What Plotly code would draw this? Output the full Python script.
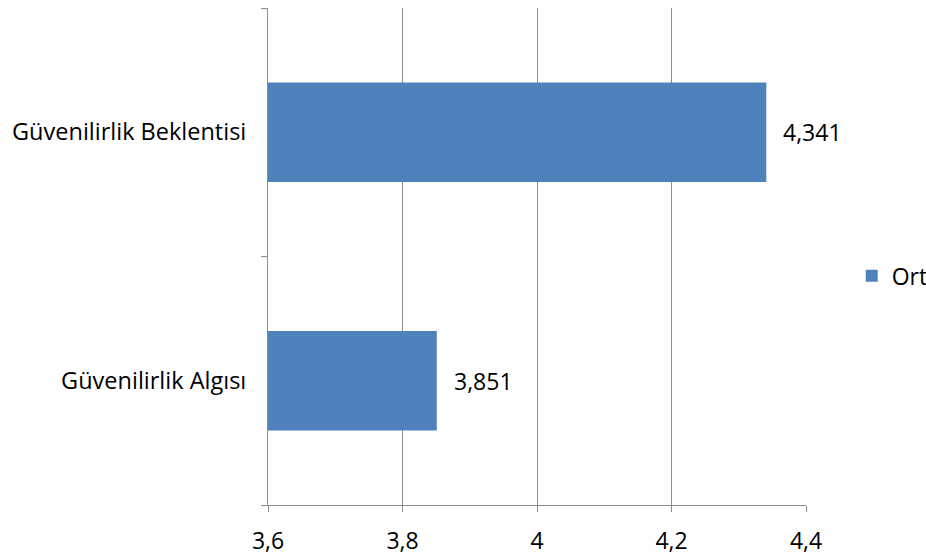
import plotly.graph_objects as go

categories = ["Güvenilirlik Algısı", "Güvenilirlik Beklentisi"]
values = [3.851, 4.341]
series_name = "Ort"
tick_values = [3.6, 3.8, 4.0, 4.2, 4.4]

FONT = "Open Sans"
GRID = "#8c8c8c"
TXT = 23

fig = go.Figure()
fig.add_trace(go.Bar(
    y=categories,
    x=values,
    orientation="h",
    name=series_name,
    marker=dict(color="#4f81bd", line=dict(width=0)),
    width=0.4,
    showlegend=True,
))

# value labels just right of each bar end
for cat, v in zip(categories, values):
    fig.add_annotation(
        x=v, y=cat, xref="x", yref="y",
        text=f"{v:.3f}".replace(".", ","),
        showarrow=False, xanchor="left", yanchor="middle",
        xshift=15,
        font=dict(family=FONT, size=TXT, color="#000000"),
    )

fig.update_layout(
    width=926,
    height=558,
    margin=dict(l=268, r=120, t=8, b=53, autoexpand=False),
    paper_bgcolor="white",
    plot_bgcolor="white",
    separators=",.",
    font=dict(family=FONT, size=TXT, color="#000000"),
    legend=dict(
        x=1.085, y=0.461, xanchor="left", yanchor="middle",
        font=dict(family=FONT, size=TXT),
        itemwidth=30,
    ),
    xaxis=dict(
        range=[3.6, 4.4],
        tickvals=tick_values,
        showgrid=True,
        gridcolor=GRID,
        gridwidth=1,
        showline=True,
        linecolor=GRID,
        linewidth=1,
        ticks="outside",
        ticklen=6,
        tickcolor=GRID,
        zeroline=False,
        automargin=False,
        tickfont=dict(family=FONT, size=TXT),
        ticklabelstandoff=9,
    ),
    yaxis=dict(
        categoryorder="array",
        categoryarray=categories,
        range=[-0.5, 1.5],
        showline=True,
        linecolor=GRID,
        linewidth=1,
        ticks="outside",
        tickson="boundaries",
        ticklen=6,
        tickcolor=GRID,
        showgrid=False,
        zeroline=False,
        automargin=False,
        tickfont=dict(family=FONT, size=23.5),
        ticklabelstandoff=16,
    ),
)

fig.write_html("out.html")
